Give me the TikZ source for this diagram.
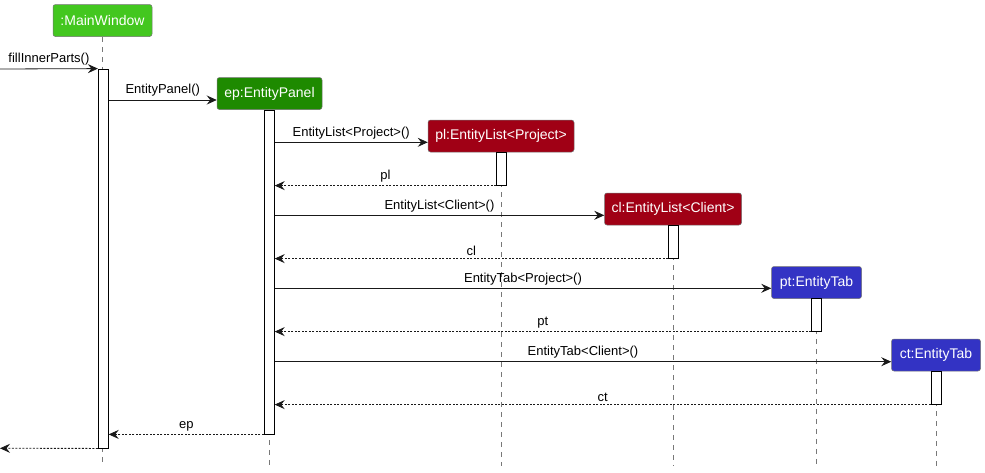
\documentclass[tikz,border=0pt]{standalone}
\usepackage{fontspec}
\setmainfont{Liberation Sans}
\usetikzlibrary{arrows.meta}
\definecolor{cmw}{RGB}{67,199,31}
\definecolor{cep}{RGB}{30,138,0}
\definecolor{cred}{RGB}{160,0,21}
\definecolor{cblue}{RGB}{51,51,196}
\definecolor{cline}{RGB}{120,120,120}
\tikzset{
  part/.style={draw=black!55, line width=0.5pt, rounded corners=2.5pt, text=white,
    font=\fontsize{14}{16}\selectfont, minimum height=32pt, inner xsep=7pt, inner ysep=0pt},
  life/.style={draw=cline, line width=0.7pt, dash pattern=on 5pt off 5pt},
  act/.style={draw=black, fill=white, line width=0.8pt, minimum width=10pt, inner sep=0pt},
  msg/.style={draw=black!90, line width=0.8pt, -{Stealth[length=10pt,width=9pt,inset=3.5pt]}},
  ret/.style={msg, dash pattern=on 2pt off 1.5pt},
  lbl/.style={font=\fontsize{13}{15}\selectfont, inner sep=0pt, anchor=base}
}
\begin{document}
\begin{tikzpicture}[x=1pt,y=-1pt]
\useasboundingbox (0,0) rectangle (985,472);
% participants
\node[part, fill=cmw, minimum width=99pt] (mw) at (102.5,20.5) {:MainWindow};
\node[part, fill=cep, minimum width=105pt] (ep) at (269.5,93.5) {ep:EntityPanel};
\node[part, fill=cred, minimum width=146pt] (pl) at (501,136) {pl:EntityList<Project>};
\node[part, fill=cred, minimum width=137pt] (cl) at (673,209) {cl:EntityList<Client>};
\node[part, fill=cblue, minimum width=90pt] (pt) at (816.5,282.5) {pt:EntityTab};
\node[part, fill=cblue, minimum width=89pt] (ct) at (936,355) {ct:EntityTab};
% lifelines
\coordinate (mwE) at (102.5,466);
\coordinate (epE) at (269.5,466);
\coordinate (plE) at (501,466);
\coordinate (clE) at (673,466);
\coordinate (ptE) at (816.5,466);
\coordinate (ctE) at (936,466);
\draw[life] (mw.south) -- (mwE);
\draw[life] (ep.south) -- (epE);
\draw[life] (pl.south) -- (plE);
\draw[life] (cl.south) -- (clE);
\draw[life] (pt.south) -- (ptE);
\draw[life] (ct.south) -- (ctE);
% activations
\node[act, minimum height=379pt] (mwA) at (103.3,258.5) {};
\node[act, minimum height=324pt] (epA) at (269.3,272) {};
\node[act, minimum height=33pt] (plA) at (501.5,168.7) {};
\node[act, minimum height=33pt] (clA) at (673.5,241.7) {};
\node[act, minimum height=33pt] (ptA) at (816.5,314.7) {};
\node[act, minimum height=33pt] (ctA) at (936,387.7) {};
% messages
\coordinate (start) at (0,69);
\coordinate (finish) at (0,448.3);
\draw[msg] (start) -- (mwA.north west) node[lbl, midway, above=3pt] {fillInnerParts()};
\draw[msg] (mwA.east |- 0,100) -- (ep.west |- 0,100) node[lbl, midway, above=3pt] {EntityPanel()};
\draw[msg] (epA.east |- 0,142.3) -- (pl.west |- 0,142.3) node[lbl, midway, above=3pt] {EntityList<Project>()};
\draw[ret] (plA.south west) -- (epA.east |- plA.south west) node[lbl, midway, above=3pt] {pl};
\draw[msg] (epA.east |- 0,215.3) -- (cl.west |- 0,215.3) node[lbl, midway, above=3pt] {EntityList<Client>()};
\draw[ret] (clA.south west) -- (epA.east |- clA.south west) node[lbl, midway, above=3pt] {cl};
\draw[msg] (epA.east |- 0,288.3) -- (pt.west |- 0,288.3) node[lbl, midway, above=3pt] {EntityTab<Project>()};
\draw[ret] (ptA.south west) -- (epA.east |- ptA.south west) node[lbl, midway, above=3pt] {pt};
\draw[msg] (epA.east |- 0,361.7) -- (ct.west |- 0,361.7) node[lbl, midway, above=3pt] {EntityTab<Client>()};
\draw[ret] (ctA.south west) -- (epA.east |- ctA.south west) node[lbl, midway, above=3pt] {ct};
\draw[ret] (epA.south west) -- (mwA.east |- epA.south west) node[lbl, midway, above=3pt] {ep};
\draw[ret] (mwA.south west) -- (finish);
\end{tikzpicture}
\end{document}
